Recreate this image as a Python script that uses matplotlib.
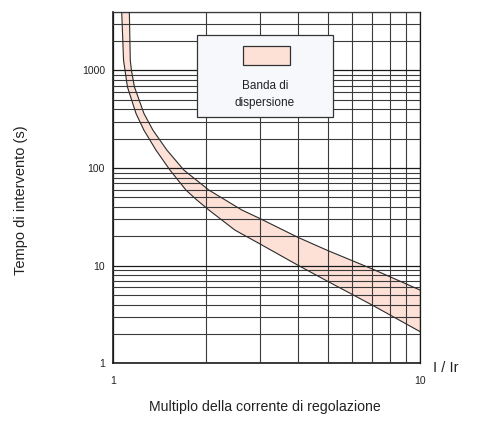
import matplotlib
matplotlib.use("Agg")
import matplotlib.pyplot as plt
from matplotlib.patches import Rectangle
from matplotlib.ticker import LogLocator, NullFormatter, FixedLocator

plt.rcParams['font.family'] = ['Liberation Sans', 'DejaVu Sans']

# band boundaries (I/Ir, seconds)
upper_i = [1.128, 1.136, 1.146, 1.172, 1.259, 1.347, 1.496, 1.700, 2.051, 2.628, 3.0, 4.0, 5.0, 7.0, 10.0]
upper_t = [4000, 1272, 1000, 678, 362, 244, 152.5, 95.2, 59.4, 37.1, 30.5, 19.5, 14.3, 9.23, 5.63]
lower_i = [1.065, 1.080, 1.112, 1.186, 1.259, 1.378, 1.531, 1.726, 1.875, 2.051, 2.494, 2.987, 4.0, 5.0, 7.0, 10.0]
lower_t = [4000, 1272, 678, 362, 244, 152.5, 95.2, 59.4, 46.9, 37.1, 23.1, 16.9, 10.1, 6.91, 3.93, 2.11]

x_ticks = [1, 10]
y_ticks = [1, 10, 100, 1000]

band_color = "#fde0d6"
line_color = "#2b2b2b"

fig = plt.figure(figsize=(4.85, 4.34), dpi=100)
ax = fig.add_axes([0.2336, 0.163, 0.6324, 0.810])
ax.set_xscale("log")
ax.set_yscale("log")
ax.set_xlim(1, 10)
ax.set_ylim(1, 4000)

# band polygon: upper curve then lower curve reversed
poly_i = upper_i + lower_i[::-1]
poly_t = upper_t + lower_t[::-1]
ax.fill(poly_i, poly_t, color=band_color, zorder=1, lw=0)
ax.plot(upper_i, upper_t, color=line_color, lw=0.8, zorder=3)
ax.plot(lower_i, lower_t, color=line_color, lw=0.8, zorder=3)

# grid
ax.xaxis.set_minor_locator(LogLocator(base=10, subs=range(2, 10)))
ax.yaxis.set_minor_locator(LogLocator(base=10, subs=range(2, 10)))
ax.xaxis.set_minor_formatter(NullFormatter())
ax.yaxis.set_minor_formatter(NullFormatter())
ax.grid(True, which="major", color="#1a1a1a", lw=0.9, zorder=2)
ax.grid(True, which="minor", color="#3a3a3a", lw=0.8, zorder=2)
ax.set_axisbelow(False)

ax.xaxis.set_major_locator(FixedLocator(x_ticks))
ax.yaxis.set_major_locator(FixedLocator(y_ticks))
ax.set_xticklabels([str(v) for v in x_ticks])
ax.set_yticklabels([str(v) for v in y_ticks])
ax.tick_params(which="both", length=0, labelsize=7.5, colors="#222222")
ax.tick_params(axis="x", pad=9)
ax.tick_params(axis="y", pad=6)

for s in ax.spines.values():
    s.set_color("#1a1a1a")
    s.set_linewidth(0.9)
ax.spines["left"].set_linewidth(1.2)
ax.spines["bottom"].set_linewidth(1.2)

# legend box
box = Rectangle((0.406, 0.730), 0.280, 0.189, transform=fig.transFigure,
                facecolor="#f7f8fb", edgecolor="#333333", lw=0.9, zorder=5, clip_on=False)
ax.add_patch(box)
swatch = Rectangle((0.501, 0.850), 0.097, 0.0438, transform=fig.transFigure,
                   facecolor=band_color, edgecolor="#333333", lw=0.9, zorder=6, clip_on=False)
ax.add_patch(swatch)
fig.text(0.546, 0.802, "Banda di", ha="center", va="center", fontsize=8.5, color="#222222", zorder=7)
fig.text(0.546, 0.763, "dispersione", ha="center", va="center", fontsize=8.5, color="#222222", zorder=7)

fig.text(0.043, 0.539, "Tempo di intervento (s)", rotation=90, ha="center", va="center",
         fontsize=10.5, color="#222222")
fig.text(0.546, 0.062, "Multiplo della corrente di regolazione", ha="center", va="center",
         fontsize=10.2, color="#222222")
fig.text(0.893, 0.152, "I / Ir", ha="left", va="center", fontsize=10.5, color="#222222")

fig.savefig("out.png", dpi=100)
